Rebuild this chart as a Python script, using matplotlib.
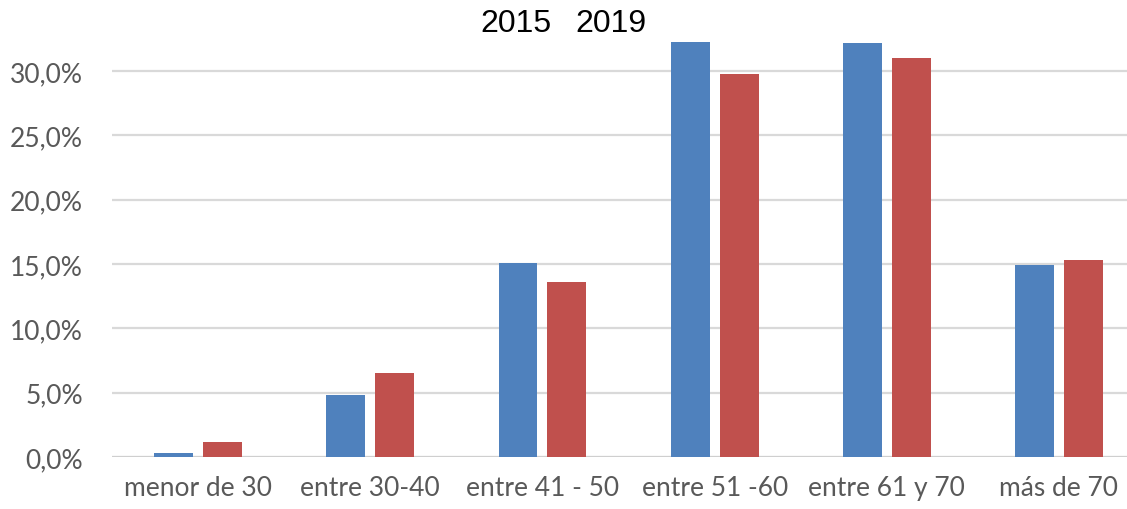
import matplotlib
matplotlib.use("Agg")
import numpy as np
import matplotlib.pyplot as plt
from matplotlib.ticker import FuncFormatter

# data (percent)
categories = ["menor de 30", "entre 30-40", "entre 41 - 50", "entre 51 -60", "entre 61 y 70", "más de 70"]
years = ["2015", "2019"]
values_2015 = [0.3, 4.8, 15.05, 33.0, 32.2, 14.9]
values_2019 = [1.2, 6.5, 13.6, 29.8, 31.0, 15.35]
y_ticks = [0, 5, 10, 15, 20, 25, 30]

blue = "#4F81BD"
red = "#C0504D"
grid_col = "#D9D9D9"
label_col = "#595959"

fig = plt.figure(figsize=(11.27, 5.10), dpi=100)
ax = fig.add_axes([0.0994, 0.102, 0.9006, 0.8137])

x = np.arange(len(categories))
width = 0.226
offset = 0.142
ax.bar(x - offset, values_2015, width, color=blue, zorder=3)
ax.bar(x + offset, values_2019, width, color=red, zorder=3)

ax.set_xlim(-0.5, 5.395)
ax.set_ylim(0, 32.27)
ax.set_yticks(y_ticks)
ax.yaxis.set_major_formatter(FuncFormatter(lambda v, p: f"{v:.1f}%".replace(".", ",")))
ax.set_xticks(x)
ax.set_xticklabels(categories)

ax.grid(axis="y", color=grid_col, linewidth=1.6, zorder=0)
ax.axhline(0, color="#CFCFCF", linewidth=2.2, zorder=2)
for s in ax.spines.values():
    s.set_visible(False)
ax.tick_params(length=0)
ax.tick_params(axis="y", pad=21, labelsize=19, labelcolor=label_col)
ax.tick_params(axis="x", pad=13, labelsize=19, labelcolor=label_col)
for lab in ax.get_xticklabels() + ax.get_yticklabels():
    lab.set_family("Lato")

# year labels at the top (legend without markers)
fig.text(516 / 1127, 1 - 24 / 510, years[0], ha="center", va="center",
         fontsize=23, family="Liberation Sans", color="black")
fig.text(611 / 1127, 1 - 24 / 510, years[1], ha="center", va="center",
         fontsize=23, family="Liberation Sans", color="black")

fig.savefig("out.png", dpi=100)
